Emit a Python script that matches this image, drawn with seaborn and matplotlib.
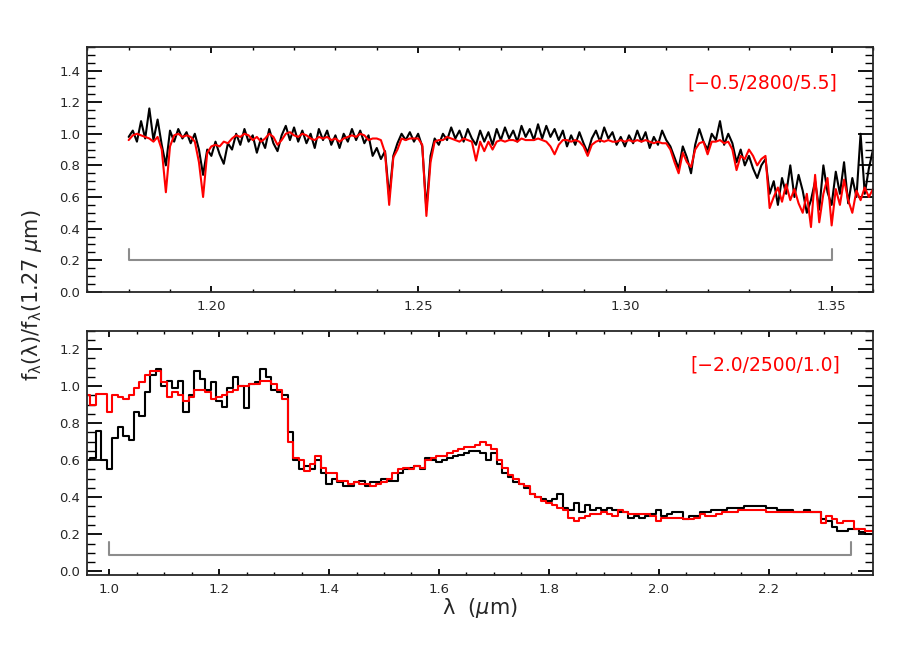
import numpy as np
import pandas as pd
import matplotlib
matplotlib.use("Agg")
import matplotlib.pyplot as plt
from matplotlib.ticker import MultipleLocator, FormatStrFormatter
import seaborn as sns

# --- top panel: J band, sampled every 0.001 um from 1.180 to 1.360 ---
j_start, j_stop, j_step = 1.180, 1.360, 0.001
j_obs = [
    0.98, 1.02, 0.95, 1.08, 0.97, 1.16, 0.96, 1.09, 0.93, 0.80,
    1.02, 0.95, 1.03, 0.97, 1.01, 0.94, 1.00, 0.90, 0.74, 0.90,
    0.86, 0.95, 0.87, 0.81, 0.94, 0.90, 1.00, 0.93, 1.03, 0.95,
    0.99, 0.88, 0.97, 0.91, 1.03, 0.94, 0.89, 0.99, 1.05, 0.96,
    1.04, 0.95, 1.02, 0.94, 1.00, 0.91, 1.03, 0.96, 1.02, 0.93,
    0.99, 0.91, 1.00, 0.95, 1.03, 0.96, 1.02, 0.94, 0.99, 0.86,
    0.91, 0.84, 0.89, 0.60, 0.86, 0.94, 1.00, 0.96, 1.01, 0.95,
    1.00, 0.92, 0.52, 0.86, 0.97, 0.93, 1.00, 0.96, 1.04, 0.97,
    1.02, 0.95, 1.03, 0.97, 0.93, 1.02, 0.95, 1.01, 0.93, 1.03,
    0.96, 1.04, 0.97, 1.02, 0.95, 1.05, 0.98, 1.03, 0.96, 1.06,
    0.97, 1.05, 0.98, 1.03, 0.96, 1.02, 0.92, 0.99, 0.93, 1.01,
    0.94, 0.88, 0.97, 1.02, 0.95, 1.04, 0.97, 1.01, 0.93, 0.98,
    0.92, 0.99, 0.94, 1.02, 0.95, 1.01, 0.91, 0.98, 0.93, 1.02,
    0.96, 0.92, 0.85, 0.78, 0.92, 0.85, 0.75, 0.93, 1.03, 0.95,
    0.90, 1.00, 0.96, 1.08, 0.93, 1.00, 0.94, 0.82, 0.90, 0.80,
    0.86, 0.78, 0.72, 0.80, 0.84, 0.62, 0.70, 0.55, 0.72, 0.62,
    0.80, 0.60, 0.74, 0.64, 0.50, 0.58, 0.70, 0.52, 0.80, 0.63,
    0.55, 0.76, 0.62, 0.82, 0.56, 0.72, 0.60, 1.00, 0.62, 0.78,
    0.90,
]
j_model = [
    0.96, 0.99, 1.00, 0.99, 0.98, 0.97, 0.95, 0.98, 0.90, 0.63,
    0.92, 0.99, 1.00, 0.98, 0.99, 0.98, 0.95, 0.82, 0.60, 0.88,
    0.92, 0.93, 0.92, 0.95, 0.94, 0.97, 0.99, 0.98, 1.00, 0.99,
    0.96, 0.98, 0.95, 0.97, 1.00, 0.98, 0.93, 0.96, 1.00, 1.01,
    0.99, 0.98, 1.00, 0.99, 0.97, 0.96, 0.98, 0.97, 0.98, 0.96,
    0.97, 0.95, 0.97, 0.98, 0.99, 0.98, 1.00, 0.99, 0.96, 0.97,
    0.97, 0.96, 0.88, 0.55, 0.85, 0.90, 0.97, 0.96, 0.97, 0.97,
    0.97, 0.93, 0.48, 0.82, 0.95, 0.96, 0.96, 0.98, 0.97, 0.96,
    0.95, 0.97, 0.96, 0.95, 0.83, 0.95, 0.89, 0.95, 0.90, 0.95,
    0.96, 0.95, 0.96, 0.96, 0.95, 0.97, 0.96, 0.96, 0.96, 0.97,
    0.96, 0.95, 0.92, 0.87, 0.93, 0.96, 0.96, 0.95, 0.96, 0.95,
    0.92, 0.86, 0.93, 0.95, 0.96, 0.95, 0.96, 0.95, 0.95, 0.96,
    0.95, 0.96, 0.95, 0.96, 0.95, 0.96, 0.95, 0.94, 0.95, 0.94,
    0.94, 0.90, 0.82, 0.75, 0.88, 0.82, 0.79, 0.90, 0.94, 0.95,
    0.87, 0.95, 0.95, 0.96, 0.94, 0.95, 0.90, 0.77, 0.86, 0.84,
    0.90, 0.86, 0.80, 0.84, 0.86, 0.53, 0.60, 0.66, 0.57, 0.68,
    0.58, 0.65, 0.56, 0.50, 0.62, 0.41, 0.74, 0.44, 0.62, 0.72,
    0.42, 0.65, 0.55, 0.71, 0.58, 0.50, 0.64, 0.58, 0.66, 0.60,
    0.65,
]

# --- bottom panel: full spectrum, bins every 0.01 um from 0.96 to 2.39 ---
full_start, full_stop, full_step = 0.96, 2.39, 0.01
full_obs = [
    0.60, 0.61, 0.76, 0.60, 0.55, 0.72, 0.78, 0.73, 0.71, 0.86,
    0.84, 0.97, 1.06, 1.09, 1.00, 1.03, 0.99, 1.03, 0.86, 0.95,
    1.08, 1.04, 0.98, 1.02, 0.92, 0.89, 0.99, 1.05, 1.00, 0.88,
    1.01, 1.02, 1.09, 1.05, 0.98, 0.97, 0.95, 0.75, 0.60, 0.55,
    0.57, 0.55, 0.60, 0.53, 0.47, 0.50, 0.48, 0.46, 0.46, 0.48,
    0.49, 0.46, 0.48, 0.48, 0.50, 0.49, 0.49, 0.53, 0.55, 0.56,
    0.57, 0.55, 0.61, 0.60, 0.59, 0.60, 0.61, 0.62, 0.63, 0.64,
    0.65, 0.65, 0.64, 0.60, 0.64, 0.58, 0.53, 0.51, 0.48, 0.47,
    0.45, 0.42, 0.40, 0.39, 0.38, 0.39, 0.42, 0.34, 0.33, 0.37,
    0.32, 0.36, 0.33, 0.34, 0.33, 0.34, 0.33, 0.32, 0.32, 0.29,
    0.30, 0.29, 0.30, 0.31, 0.33, 0.30, 0.31, 0.32, 0.32, 0.28,
    0.30, 0.30, 0.32, 0.32, 0.33, 0.33, 0.33, 0.34, 0.34, 0.34,
    0.35, 0.35, 0.35, 0.35, 0.34, 0.34, 0.33, 0.33, 0.33, 0.32,
    0.32, 0.33, 0.32, 0.32, 0.28, 0.27, 0.24, 0.22, 0.22, 0.23,
    0.23, 0.21, 0.20, 0.20,
]
full_model = [
    0.95, 0.90, 0.96, 0.96, 0.86, 0.95, 0.94, 0.93, 0.95, 0.99,
    1.02, 1.06, 1.08, 1.08, 1.02, 0.94, 0.97, 0.95, 0.92, 0.94,
    0.98, 0.98, 0.97, 0.93, 0.94, 0.95, 0.97, 0.98, 1.00, 1.00,
    1.01, 1.01, 1.03, 1.03, 1.01, 0.98, 0.93, 0.70, 0.61, 0.60,
    0.54, 0.58, 0.62, 0.56, 0.53, 0.53, 0.49, 0.49, 0.47, 0.48,
    0.47, 0.47, 0.46, 0.47, 0.48, 0.50, 0.53, 0.55, 0.56, 0.55,
    0.57, 0.56, 0.60, 0.61, 0.62, 0.62, 0.64, 0.65, 0.66, 0.67,
    0.67, 0.68, 0.70, 0.68, 0.66, 0.60, 0.56, 0.52, 0.50, 0.47,
    0.46, 0.42, 0.40, 0.38, 0.37, 0.36, 0.34, 0.33, 0.29, 0.27,
    0.29, 0.30, 0.31, 0.31, 0.32, 0.31, 0.30, 0.33, 0.32, 0.31,
    0.31, 0.31, 0.31, 0.30, 0.27, 0.29, 0.29, 0.29, 0.29, 0.28,
    0.28, 0.29, 0.31, 0.30, 0.30, 0.31, 0.32, 0.32, 0.32, 0.33,
    0.33, 0.33, 0.33, 0.33, 0.32, 0.32, 0.32, 0.32, 0.32, 0.32,
    0.32, 0.32, 0.32, 0.32, 0.26, 0.30, 0.28, 0.26, 0.27, 0.27,
    0.23, 0.23, 0.22, 0.22,
]

# fitted ranges marked by the grey brackets: (start, end, level)
top_fit = (1.18, 1.35, 0.20)
bottom_fit = (1.00, 2.35, 0.09)
top_label = "[\u22120.5/2800/5.5]"
bottom_label = "[\u22122.0/2500/1.0]"

j_wave = np.round(np.arange(j_start, j_stop + j_step / 2, j_step), 3)
full_wave = np.round(np.arange(full_start, full_stop + full_step / 2, full_step), 2)
top_df = pd.DataFrame({"wave": j_wave, "obs": j_obs, "model": j_model})
bot_df = pd.DataFrame({"wave": full_wave, "obs": full_obs, "model": full_model})

sns.set_style("ticks")
plt.rcParams["font.family"] = ["DejaVu Sans"]
plt.rcParams["mathtext.fontset"] = "dejavusans"
plt.rcParams["axes.linewidth"] = 1.3

fig = plt.figure(figsize=(9, 6.5), dpi=100)
ax1 = fig.add_axes([0.097, 0.551, 0.873, 0.377])
ax2 = fig.add_axes([0.097, 0.1154, 0.873, 0.376])

# top: plain lines
sns.lineplot(data=top_df, x="wave", y="obs", color="black", lw=1.5,
             estimator=None, sort=False, ax=ax1)
sns.lineplot(data=top_df, x="wave", y="model", color="red", lw=1.5,
             estimator=None, sort=False, ax=ax1)
# bottom: histogram style
sns.lineplot(data=bot_df, x="wave", y="obs", color="black", lw=1.5,
             drawstyle="steps-mid", estimator=None, sort=False, ax=ax2)
sns.lineplot(data=bot_df, x="wave", y="model", color="red", lw=1.5,
             drawstyle="steps-mid", estimator=None, sort=False, ax=ax2)

for ax, fit, tick_h in [(ax1, top_fit, 0.07), (ax2, bottom_fit, 0.07)]:
    x0, x1, lev = fit
    ax.plot([x0, x0, x1, x1], [lev + tick_h, lev, lev, lev + tick_h],
            color="#8c8c8c", lw=1.5)

ax1.set_xlim(1.17, 1.36)
ax1.set_ylim(0.0, 1.55)
ax1.xaxis.set_major_locator(MultipleLocator(0.05))
ax1.xaxis.set_minor_locator(MultipleLocator(0.01))
ax1.xaxis.set_major_formatter(FormatStrFormatter("%.2f"))

ax2.set_xlim(0.96, 2.39)
ax2.set_ylim(-0.02, 1.3)
ax2.xaxis.set_major_locator(MultipleLocator(0.2))
ax2.xaxis.set_minor_locator(MultipleLocator(0.05))
ax2.xaxis.set_major_formatter(FormatStrFormatter("%.1f"))

for ax in (ax1, ax2):
    ax.yaxis.set_major_locator(MultipleLocator(0.2))
    ax.yaxis.set_minor_locator(MultipleLocator(0.05))
    ax.yaxis.set_major_formatter(FormatStrFormatter("%.1f"))
    ax.tick_params(which="both", direction="in", top=True, right=True,
                   labelsize=9.5, color="black")
    ax.tick_params(axis="y", which="major", length=11, width=1.3, pad=5)
    ax.tick_params(axis="y", which="minor", length=5.5, width=1.0)
    ax.tick_params(axis="x", which="major", length=4, width=1.3, pad=6)
    ax.tick_params(axis="x", which="minor", length=2, width=1.0)
    ax.set_xlabel("")
    ax.set_ylabel("")

ax1.text(0.955, 0.853, top_label, color="red", fontsize=13.5,
         ha="right", va="center", transform=ax1.transAxes)
ax2.text(0.958, 0.86, bottom_label, color="red", fontsize=13.5,
         ha="right", va="center", transform=ax2.transAxes)

fig.text(0.533, 0.065, "\u03bb  ($\\mu$m)", fontsize=15,
         ha="center", va="center")
fig.text(0.036, 0.545,
         "f$_\\mathregular{\u03bb}$(\u03bb)/f$_\\mathregular{\u03bb}$(1.27 $\\mu$m)",
         fontsize=15, rotation=90, ha="center", va="center")

fig.savefig("out.png", dpi=100)
